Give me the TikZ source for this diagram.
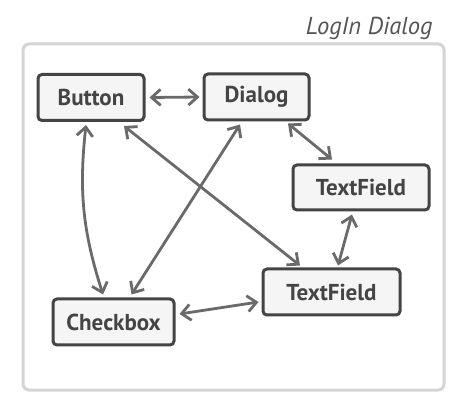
\documentclass[tikz,border=0pt]{standalone}
\usepackage{fontspec}
\setmainfont{PT Sans}
\usetikzlibrary{arrows.meta}
\definecolor{boxfill}{HTML}{F5F5F5}
\definecolor{boxline}{HTML}{444444}
\definecolor{arrowc}{HTML}{6A6A6A}
\definecolor{framec}{HTML}{D4D4D4}
\definecolor{titlec}{HTML}{555555}
\begin{document}
\begin{tikzpicture}[x=1pt,y=-1pt,
  compbox/.style={draw=boxline, fill=boxfill, line width=3pt, rounded corners=4pt,
    inner sep=0pt, text=boxline, font=\fontsize{23}{26}\selectfont\bfseries},
  link/.style={draw=arrowc, line width=2.8pt,
    {Straight Barb[length=9pt,width=16pt,line width=2.8pt]}-{Straight Barb[length=9pt,width=16pt,line width=2.8pt]}}
]
\useasboundingbox (0,0) rectangle (469,414);
\draw[framec, line width=3pt, rounded corners=6pt] (23,44) rectangle (444,390);
\node[anchor=base east, text=titlec, font=\fontsize{24.5}{28}\selectfont\itshape] (title) at (436,35) {LogIn Dialog};

\node[compbox, minimum width=106pt, minimum height=46pt] (button) at (91,97.5) {Button};
\node[compbox, minimum width=105pt, minimum height=46pt] (dialog) at (256.5,97) {Dialog};
\node[compbox, minimum width=136pt, minimum height=45pt] (tf1) at (361,187.5) {TextField};
\node[compbox, minimum width=137pt, minimum height=46pt] (tf2) at (331.5,292) {TextField};
\node[compbox, minimum width=121pt, minimum height=46pt] (check) at (113.5,322) {Checkbox};

\draw[link] ([xshift=4pt]button.east) -- ([xshift=-3pt]dialog.west);
\draw[link] ([xshift=31.5pt,yshift=-2pt]dialog.south) -- ([xshift=-29pt,yshift=4pt]tf1.north);
\draw[link] ([xshift=-9pt,yshift=-3pt]tf1.south) -- ([xshift=6.5pt,yshift=2pt]tf2.north);
\draw[link] ([xshift=4pt,yshift=8pt]check.east) -- ([xshift=-3pt,yshift=-10pt]tf2.west);
\draw[link] ([xshift=-5pt,yshift=-3pt]button.south) to[bend right=12] ([xshift=-10.5pt,yshift=3pt]check.north);
\draw[link] ([xshift=-16.5pt,yshift=-3pt]dialog.south) -- ([xshift=18pt,yshift=3pt]check.north);
\draw[link] ([xshift=33pt,yshift=-4pt]button.south) -- ([xshift=-31.5pt,yshift=2pt]tf2.north);
\end{tikzpicture}
\end{document}
